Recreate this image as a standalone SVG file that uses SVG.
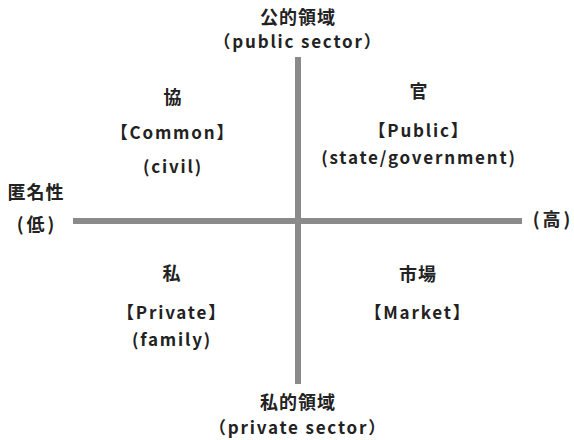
<svg xmlns="http://www.w3.org/2000/svg" width="574" height="440" viewBox="0 0 574 440">
<style>
text{font-family:"Noto Sans CJK JP","Noto Sans",sans-serif;font-weight:700;fill:#222;text-anchor:middle}
.k{font-size:18px;letter-spacing:1px}
.e{font-size:17px;letter-spacing:1.8px}
.axis{stroke:#8a8a8a;stroke-width:6}
</style>
<rect width="574" height="440" fill="#fff"/>
<g id="connectors">
<line class="axis" x1="73" y1="221" x2="522" y2="221"/>
<line class="axis" x1="298" y1="57" x2="298" y2="384"/>
</g>
<g id="top"><text class="k" x="298" y="24">公的領域</text><text class="e" x="298" y="48">（public sector）</text></g>
<g id="bottom"><text class="k" x="298" y="409">私的領域</text><text class="e" x="298" y="434">（private sector）</text></g>
<g id="left"><text class="k" x="36" y="199">匿名性</text><text class="k" x="37" y="231" style="letter-spacing:3px">(低)</text></g>
<g id="right"><text class="k" x="553" y="226" style="letter-spacing:3px">(高)</text></g>
<g id="kyo"><text class="k" x="173" y="104">協</text><text class="e" x="173" y="139">【Common】</text><text class="e" x="173" y="173">(civil)</text></g>
<g id="kan"><text class="k" x="419" y="98">官</text><text class="e" x="419" y="137">【Public】</text><text class="e" x="419" y="164">(state/government)</text></g>
<g id="shi"><text class="k" x="172" y="280">私</text><text class="e" x="172" y="319">【Private】</text><text class="e" x="172" y="346">(family)</text></g>
<g id="shijo"><text class="k" x="418" y="281">市場</text><text class="e" x="418" y="319">【Market】</text></g>
</svg>
